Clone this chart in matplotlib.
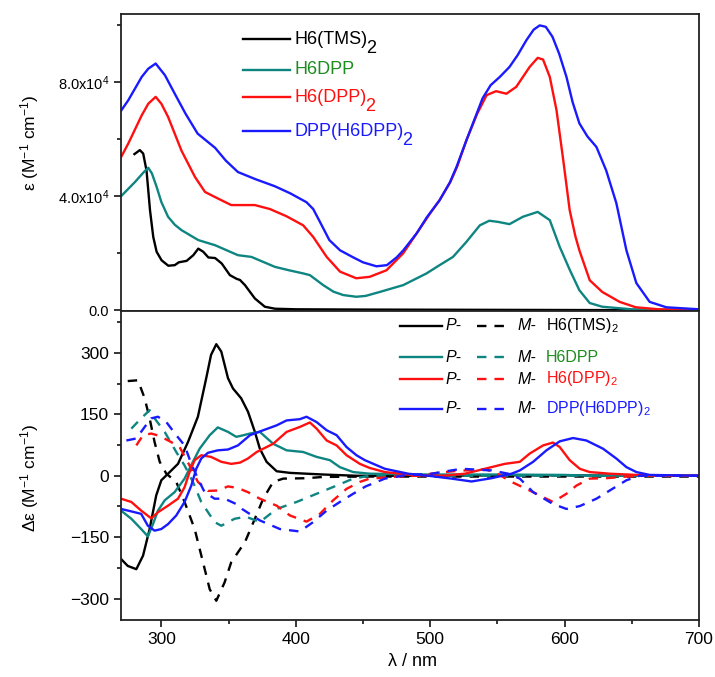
import matplotlib
matplotlib.use("Agg")
import matplotlib.pyplot as plt
from matplotlib.ticker import FixedLocator, MultipleLocator, FuncFormatter
from matplotlib.lines import Line2D

plt.rcParams['font.family'] = ['Liberation Sans', 'DejaVu Sans']
plt.rcParams['mathtext.fontset'] = 'custom'
plt.rcParams['mathtext.rm'] = 'Liberation Sans'
plt.rcParams['mathtext.it'] = 'Liberation Sans:italic'

BLACK = '#000000'
TEAL = '#0f8582'
GREEN = '#1e8c1e'
RED = '#ff1010'
BLUE = '#1a1aff'

# ---- UV-vis absorption (epsilon, x1e3 M^-1 cm^-1) ----
lam_tms = [280, 284, 286.5, 289, 291.6, 294, 296.5, 300.2, 305.2, 310, 313, 318.8, 323.8, 327.5,
           331.2, 335, 340, 344.9, 351, 356, 358.5, 362.2, 369.6, 377, 384.5, 400, 450, 550, 650, 700]
eps_tms = [54.8, 56.2, 55.0, 49.0, 35.0, 25.7, 20.5, 17.5, 15.6, 15.8, 16.8, 17.3, 19.3, 21.6,
           20.5, 18.5, 18.3, 16.4, 12.3, 11.0, 10.6, 8.8, 4.1, 1.2, 0.5, 0.3, 0.2, 0.1, 0.0, 0.0]

lam_h6dpp = [270, 280.4, 287, 290.3, 293, 296.5, 300, 305, 310, 315, 327.5, 340, 357, 367, 384.5, 395,
             405.5, 410.5, 420.4, 428, 435.3, 445, 452, 462.6, 480, 497.3, 507, 517, 527, 537, 544,
             550.5, 559, 569, 580, 589, 596.4, 604, 611, 618.7, 628, 650, 700]
eps_h6dpp = [40, 45, 48.5, 50, 48, 43.3, 38, 32.8, 30, 28.1, 24.6, 22.8, 19.3, 18.7, 15.2, 14,
             12.9, 12.3, 8.8, 6.5, 5.3, 4.7, 5.0, 6.4, 8.8, 12.9, 15.8, 18.7, 24, 29.8, 31.4,
             31, 30.2, 32.8, 34.5, 31.6, 22.2, 14.0, 7.0, 2.5, 1.2, 0.3, 0.0]

lam_h6dpp2 = [270, 275.4, 285.4, 290.3, 295.8, 300, 305, 315, 325, 332.5, 340, 352, 369.6, 380.8, 393,
              405.5, 413, 423, 433, 445, 455, 467.5, 480, 490, 500, 507, 515, 520, 527, 535, 542,
              549, 556.7, 564, 574, 580, 584, 589, 594, 599, 603.8, 608, 611, 618.7, 628, 641, 653,
              670, 700]
eps_h6dpp2 = [53.7, 58.5, 68.4, 72.5, 74.9, 72.5, 67.9, 56, 46.8, 41.5, 39.7, 36.9, 36.9, 35.5, 33,
              29.8, 25.7, 18.7, 13.5, 11.2, 11.7, 14, 20, 27, 34, 38.6, 45, 50.3, 59.7, 69, 75.5,
              76.9, 76, 78.4, 85.4, 88.6, 88, 81.9, 70.2, 52.7, 35.1, 26, 21, 10.5, 6.4, 2.9, 1.0,
              0.3, 0.0]

lam_dpp = [270, 275.4, 285.4, 290.3, 295.8, 302.7, 310, 318, 327, 340, 348, 357, 370, 384.5, 396,
           408, 413, 418, 425, 433, 442.5, 450, 460, 467.8, 475, 480, 490, 497.5, 507, 514.6, 519.6,
           527, 539, 545, 551.8, 559, 565, 571.6, 577, 581.5, 586, 591, 596, 601.4, 606, 611, 617,
           623.7, 631, 638.5, 646, 653.4, 663.3, 675.7, 700]
eps_dpp = [70, 73.7, 81.9, 84.8, 86.6, 82.5, 76, 69, 62, 57, 52.5, 48.5, 46, 43.5, 41,
           37.9, 35.5, 31, 24.6, 21, 18.6, 16.8, 15.4, 15.8, 18.5, 21, 27, 32.6, 38.6, 44.8, 50.3,
           59.7, 74.4, 79, 81.9, 85.4, 89.5, 94.8, 98.5, 100, 99.5, 96, 90, 81.9, 73, 65.6, 61,
           57.3, 49, 37.6, 21, 9.5, 2.9, 1.0, 0.3]

# ---- CD spectra (delta epsilon, M^-1 cm^-1), P- solid / M- dashed ----
lam_tms_p = [270, 275, 281.4, 286.4, 291.3, 296.2, 300, 305, 312.4, 319.8, 327.2, 333.4, 337, 340.9,
             344.6, 349.6, 353.3, 359.4, 364.5, 369.6, 373.3, 378.3, 385.8, 395.7, 420.4, 445, 500,
             550, 600, 650, 700]
de_tms_p = [-203, -220, -228, -195, -130, -48, -11, 5, 29, 82, 144, 238, 295, 321,
            303, 238, 213, 189, 156, 107, 66, 34, 11, 7, 3, 0, 0, 1, 1, 0, 0]
lam_tms_m = [275, 282.6, 287.6, 291.3, 295, 298.8, 303.7, 311.1, 317.3, 324.8, 331, 336, 340.9,
             347.1, 352, 362.2, 369.6, 375.8, 383.2, 390.7, 408, 420, 450, 700]
de_tms_m = [231, 233, 189, 140, 82, 34, 5, -15, -64, -130, -211, -277, -305,
            -260, -211, -162, -105, -56, -15, -7, -6, -3, -2, -2]

lam_h6dpp_p = [270, 277.7, 285, 290, 293.8, 297.5, 302.5, 309.9, 317.3, 323.5, 328.5, 336, 342, 349.6,
               355.7, 360, 366, 373.3, 383.2, 393.2, 405.5, 415.5, 425.4, 432.8, 442.7, 455, 500,
               550, 600, 620, 700]
de_h6dpp_p = [-85, -105, -130, -148, -118, -85, -60, -40, -7, 34, 66, 99, 118, 107,
              95, 98, 103, 107, 78, 62, 58, 46, 38, 21, 9, 5, 3, 3, 2, 0, 0]
lam_h6dpp_m = [277.7, 285, 291.3, 295, 302.5, 311.1, 317.3, 323.5, 329.7, 339.6, 344.6, 354.5, 363,
               373.3, 385.8, 400.6, 415.5, 430.4, 442.7, 455, 500, 700]
de_h6dpp_m = [115, 140, 160, 140, 107, 58, 25, -15, -64, -113, -122, -105, -100,
              -113, -81, -64, -44, -24, -7, 0, 0, 0]

lam_h6dpp2_p = [270, 277.7, 285, 292.5, 297.5, 305, 312.4, 317.3, 321, 324.8, 329.7, 337, 344.6, 352,
                358.5, 364.4, 371, 383.2, 393.2, 403, 410.5, 415.5, 423, 430.4, 437.8, 447.7, 455,
                466.3, 488.6, 510, 525.8, 545.6, 555.5, 566.7, 574, 584, 591.4, 596.4, 603.8, 611.3,
                618.7, 633.6, 653.4, 670, 700]
de_h6dpp2_p = [-56, -64, -85, -104, -89, -73, -56, -28, 9, 38, 50, 46, 34, 29,
               32, 42, 58, 78, 107, 119, 130, 115, 86, 74, 50, 29, 19,
               9, 1, 0, 5, 21, 29, 34, 54, 74, 81, 70, 38, 17,
               9, 5, 2, 0, 0]
lam_h6dpp2_m = [281.4, 286.4, 292.5, 298.8, 307.4, 313.6, 321, 327.2, 334.7, 342, 349.6, 357, 364.4,
                373.3, 385.8, 395.7, 408, 418, 427.8, 437.8, 447.7, 455, 475, 490, 505.7, 520, 533.3,
                541, 550, 560.5, 576.6, 591.4, 601.4, 608.8, 618.7, 631, 646, 660, 700]
de_h6dpp2_m = [74, 99, 103, 97, 82, 70, 25, -15, -37, -36, -26, -30, -40,
               -56, -73, -97, -112, -93, -60, -32, -15, -7, -2, 0, 7, 12, 14,
               16, 5, -15, -40, -64, -44, -24, -7, -6, -2, 0, 0]

lam_dpp_p = [270, 277.7, 285, 290, 295, 300, 305, 311.1, 317.3, 322.3, 326, 329.7, 334.7, 342, 349.6,
             357, 366, 375.8, 385.8, 393.2, 403, 408, 415.5, 423, 430.4, 437.8, 445.2, 451.4, 466.3,
             483.6, 501, 515.9, 530.8, 545.6, 560.5, 566.7, 576.6, 586.5, 596.4, 606.3, 616.2,
             628.6, 638.5, 646, 653.4, 663.3, 700]
de_dpp_p = [-81, -87, -93, -122, -134, -130, -118, -97, -64, -24, 17, 42, 56, 62, 64,
            74, 99, 111, 123, 135, 138, 144, 131, 111, 99, 70, 50, 38, 17,
            5, -1, -7, -14, -6, 5, 13, 34, 62, 84, 92, 86,
            66, 42, 21, 9, 2, 0]
lam_dpp_m = [274, 281.4, 287.6, 292.5, 297.5, 303.7, 311.1, 317.3, 322.3, 327.2, 332.2, 339.6, 347.1,
             355.7, 360, 373.3, 388.2, 403, 413, 423, 432.8, 442.7, 452, 466.3, 481, 501, 523.3,
             545.6, 558, 566.7, 576.6, 591.4, 601.4, 611.3, 623.7, 633.6, 646, 656, 700]
de_dpp_m = [86, 91, 119, 140, 144, 131, 99, 74, 29, -7, -40, -56, -56,
            -69, -81, -109, -130, -136, -113, -85, -64, -44, -26, -7, 1, 5, 17,
            13, 5, -7, -40, -69, -81, -74, -56, -36, -11, 0, 0]

W, H = 715, 677
fig = plt.figure(figsize=(W / 100, H / 100), dpi=100)


def fx(px):
    return px / W


def fy(py):
    return 1 - py / H


ax1 = fig.add_axes([fx(121), fy(311), (699 - 121) / W, (311 - 14) / H])
ax2 = fig.add_axes([fx(121), fy(620), (699 - 121) / W, (620 - 311) / H])

lw = 1.7
dash = (4, 3.4)

# top: absorption
ax1.plot(lam_tms, [v * 1e3 for v in eps_tms], color=BLACK, lw=lw)
ax1.plot(lam_h6dpp, [v * 1e3 for v in eps_h6dpp], color=TEAL, lw=lw)
ax1.plot(lam_h6dpp2, [v * 1e3 for v in eps_h6dpp2], color=RED, lw=lw)
ax1.plot(lam_dpp, [v * 1e3 for v in eps_dpp], color=BLUE, lw=lw)
ax1.set_xlim(270, 700)
ax1.set_ylim(-300, 104000)
ax1.yaxis.set_major_locator(FixedLocator([0, 40000, 80000]))
ax1.yaxis.set_minor_locator(FixedLocator([20000, 60000, 100000]))
ax1.yaxis.set_major_formatter(FuncFormatter(
    lambda v, p: '0.0' if v == 0 else r'%.1fx10$^{4}$' % (v / 1e4)))
ax1.tick_params(axis='y', which='both', direction='out', labelsize=10.5, width=1.1)
ax1.tick_params(axis='y', which='major', length=5)
ax1.tick_params(axis='y', which='minor', length=3)
ax1.tick_params(axis='x', which='both', bottom=False, labelbottom=False)

# bottom: CD
ax2.plot(lam_tms_p, de_tms_p, color=BLACK, lw=lw)
ax2.plot(lam_tms_m, de_tms_m, color=BLACK, lw=lw, dashes=dash)
ax2.plot(lam_h6dpp_p, de_h6dpp_p, color=TEAL, lw=lw)
ax2.plot(lam_h6dpp_m, de_h6dpp_m, color=TEAL, lw=lw, dashes=dash)
ax2.plot(lam_h6dpp2_p, de_h6dpp2_p, color=RED, lw=lw)
ax2.plot(lam_h6dpp2_m, de_h6dpp2_m, color=RED, lw=lw, dashes=dash)
ax2.plot(lam_dpp_p, de_dpp_p, color=BLUE, lw=lw)
ax2.plot(lam_dpp_m, de_dpp_m, color=BLUE, lw=lw, dashes=dash)
ax2.set_xlim(270, 700)
ax2.set_ylim(-352, 402)
ax2.xaxis.set_major_locator(MultipleLocator(100))
ax2.xaxis.set_minor_locator(MultipleLocator(50))
ax2.yaxis.set_major_locator(FixedLocator([-300, -150, 0, 150, 300]))
ax2.yaxis.set_minor_locator(FixedLocator([-375, -225, -75, 75, 225, 375]))
ax2.tick_params(which='both', direction='out', labelsize=12.5, width=1.1)
ax2.tick_params(which='major', length=5)
ax2.tick_params(which='minor', length=3)

for ax in (ax1, ax2):
    for s in ax.spines.values():
        s.set_linewidth(1.3)
        s.set_color('#222222')

fig.text(fx(30), fy(143), 'ε (M$^{-1}$ cm$^{-1}$)', rotation=90,
         ha='center', va='center', fontsize=12.5)
fig.text(fx(30), fy(478), 'Δε (M$^{-1}$ cm$^{-1}$)', rotation=90,
         ha='center', va='center', fontsize=12.5)
fig.text(fx(412), fy(661), 'λ / nm', ha='center', va='center', fontsize=13)

# top legend, with full-size lowered subscript
top_entries = [(39, BLACK, BLACK, 'H6(TMS)', True),
               (70, TEAL, GREEN, 'H6DPP', False),
               (97, RED, RED, 'H6(DPP)', True),
               (131, BLUE, BLUE, 'DPP(H6DPP)', True)]
for yy, lc, tc, name, sub in top_entries:
    fig.add_artist(Line2D([fx(243), fx(290)], [fy(yy), fy(yy)], color=lc, lw=lw))
    t = fig.text(fx(295), fy(yy), name, color=tc, fontsize=13, va='center', ha='left')
    if sub:
        ax1.annotate('2', xy=(1, 0), xycoords=t, xytext=(-1.5, 5.5), textcoords='offset points',
                     ha='left', va='top', color=tc, fontsize=13)

# bottom legend
bot_entries = [(326, BLACK, BLACK, r'H6(TMS)$_2$'),
               (357, TEAL, GREEN, 'H6DPP'),
               (379, RED, RED, r'H6(DPP)$_2$'),
               (409, BLUE, BLUE, r'DPP(H6DPP)$_2$')]
for yy, lc, tc, name in bot_entries:
    fig.add_artist(Line2D([fx(400), fx(442)], [fy(yy), fy(yy)], color=lc, lw=lw))
    fig.text(fx(446), fy(yy), 'P-', style='italic', fontsize=11.5, va='center', ha='left')
    fig.add_artist(Line2D([fx(477), fx(510)], [fy(yy), fy(yy)], color=lc, lw=lw, dashes=dash))
    fig.text(fx(517), fy(yy), 'M-', style='italic', fontsize=11.5, va='center', ha='left')
    fig.text(fx(546), fy(yy), name, color=tc, fontsize=11.5, va='center', ha='left')

fig.savefig('out.png', dpi=100)
